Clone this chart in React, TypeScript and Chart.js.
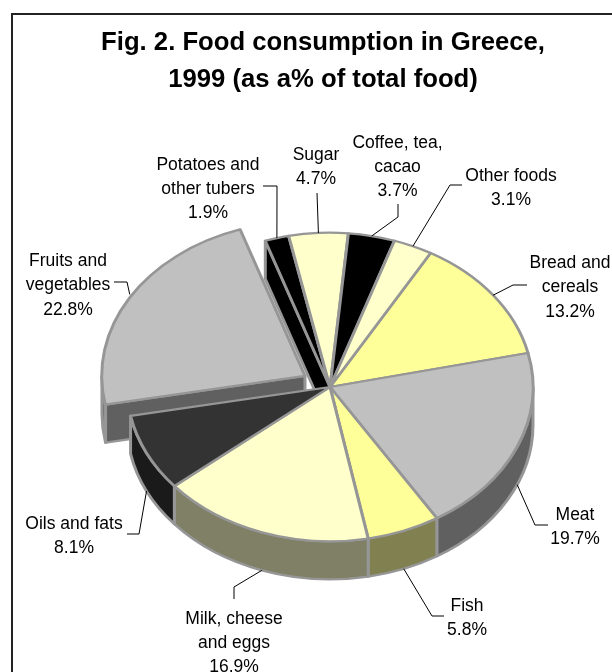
import React, { useEffect, useRef } from "react";
import { Chart, registerables } from "chart.js";

Chart.register(...registerables);

const categories = [
  ["Bread and", "cereals"],
  ["Meat"],
  ["Fish"],
  ["Milk, cheese", "and eggs"],
  ["Oils and fats"],
  ["Fruits and", "vegetables"],
  ["Potatoes and", "other tubers"],
  ["Sugar"],
  ["Coffee, tea,", "cacao"],
  ["Other foods"],
];
const shares = [13.2, 19.7, 5.8, 16.9, 8.1, 22.8, 1.9, 4.7, 3.7, 3.1];
const topColors = ["#FFFF99", "#C0C0C0", "#FFFF99", "#FFFFCC", "#333333", "#C0C0C0", "#000000", "#FFFFCC", "#000000", "#FFFFCC"];
const sideColors = ["#808050", "#606060", "#808050", "#808066", "#1A1A1A", "#606060", "#000000", "#808066", "#000000", "#808066"];
const titleLines = ["Fig. 2. Food consumption in Greece,", "1999 (as a% of total food)"];

// Slice pulled out of the pie, in pixels along its middle angle.
const explodedIndex = 5;
const explodeDistance = 29;

const CENTER_X = 330;
const CENTER_Y = 387;
const RADIUS = 203;
const TILT = 0.76; // vertical squash of the pie disc
const DEPTH = 38; // wall height on screen
const EDGE = "#969696";
const FONT = "'Liberation Sans', Arial, sans-serif";
const LABEL_LINE = 24.3;

// Text centre and leader elbows for every slice, with the same order as the categories.
const labelLayout = [
  { x: 570, y: 287.5, elbows: [[513, 285], [527, 285]], onWall: false },
  { x: 575, y: 527.5, elbows: [[535, 525], [548, 525]], onWall: true },
  { x: 467, y: 618.5, elbows: [[432, 616], [444, 616]], onWall: true },
  { x: 234, y: 643, elbows: [[234, 587], [234, 599]], onWall: true },
  { x: 74, y: 536.5, elbows: [[139, 534], [127, 534]], onWall: true },
  { x: 68, y: 285.5, elbows: [[127, 282], [114, 282]], onWall: false },
  { x: 208, y: 189, elbows: [[277, 186], [263, 186]], onWall: false },
  { x: 316, y: 167, elbows: [[317, 193]], onWall: false },
  { x: 397.5, y: 167, elbows: [[398, 217], [398, 204]], onWall: false },
  { x: 511, y: 188, elbows: [[450, 185], [462, 185]], onWall: false },
];

type Disc = { x: number; y: number; r: number; start: number; end: number; mid: number };

function discOf(arc: any): Disc {
  const { x, y, startAngle, endAngle, outerRadius, options } = arc;
  const mid = (startAngle + endAngle) / 2;
  const push = (options.offset || 0) / 4;
  return {
    x: x + Math.cos(mid) * push,
    y: y + Math.sin(mid) * push,
    r: outerRadius,
    start: startAngle,
    end: endAngle,
    mid,
  };
}

function squash(ctx: CanvasRenderingContext2D, cy: number) {
  ctx.translate(0, cy);
  ctx.scale(1, TILT);
  ctx.translate(0, -cy);
}

// Outer rim of a slice, only where it faces the viewer (canvas angles 0 to PI).
function drawRimWall(ctx: CanvasRenderingContext2D, d: Disc, fill: string) {
  const drop = DEPTH / TILT;
  const turns = [-2, 0, 2];
  turns.forEach((t) => {
    const a = Math.max(d.start, t * Math.PI);
    const b = Math.min(d.end, t * Math.PI + Math.PI);
    if (b <= a) return;
    ctx.beginPath();
    ctx.arc(d.x, d.y, d.r, a, b);
    ctx.arc(d.x, d.y + drop, d.r, b, a, true);
    ctx.closePath();
    ctx.fillStyle = fill;
    ctx.fill();
    ctx.stroke();
  });
}

// Cut face along a slice's first radius, shown where the neighbour has moved away.
function drawCutWall(ctx: CanvasRenderingContext2D, d: Disc, fill: string) {
  const drop = DEPTH / TILT;
  const rx = d.x + Math.cos(d.start) * d.r;
  const ry = d.y + Math.sin(d.start) * d.r;
  ctx.beginPath();
  ctx.moveTo(d.x, d.y);
  ctx.lineTo(rx, ry);
  ctx.lineTo(rx, ry + drop);
  ctx.lineTo(d.x, d.y + drop);
  ctx.closePath();
  ctx.fillStyle = fill;
  ctx.fill();
  ctx.stroke();
}

const pie3d = {
  id: "pie3d",
  beforeDraw(chart: any) {
    const { ctx, width, height } = chart;
    ctx.save();
    ctx.fillStyle = "#FFFFFF";
    ctx.fillRect(0, 0, width, height);
    ctx.strokeStyle = "#222222";
    ctx.lineWidth = 2;
    ctx.strokeRect(12, 14, width + 20, height + 20);
    ctx.restore();
  },
  beforeDatasetDraw(chart: any) {
    const { ctx } = chart;
    const arcs = chart.getDatasetMeta(0).data;
    ctx.save();
    squash(ctx, arcs[0].y);
    ctx.lineWidth = 3;
    ctx.strokeStyle = EDGE;
    ctx.lineJoin = "round";
    const pulled = discOf(arcs[explodedIndex]);
    drawCutWall(ctx, pulled, sideColors[explodedIndex]);
    drawRimWall(ctx, pulled, sideColors[explodedIndex]);
    drawCutWall(ctx, discOf(arcs[explodedIndex + 1]), sideColors[explodedIndex + 1]);
    arcs.forEach((arc: any, i: number) => {
      if (i !== explodedIndex) drawRimWall(ctx, discOf(arc), sideColors[i]);
    });
    ctx.restore();
    // The library's own arcs are painted under the same squash.
    ctx.save();
    squash(ctx, arcs[0].y);
  },
  afterDatasetDraw(chart: any) {
    chart.ctx.restore();
  },
  afterDraw(chart: any) {
    const { ctx } = chart;
    const arcs = chart.getDatasetMeta(0).data;
    ctx.save();
    ctx.fillStyle = "#000000";
    ctx.textAlign = "center";
    ctx.textBaseline = "middle";
    ctx.font = `bold 25.7px ${FONT}`;
    titleLines.forEach((line, i) => ctx.fillText(line, 323, 43 + i * 37));

    ctx.font = `17.5px ${FONT}`;
    categories.forEach((lines, i) => {
      const spot = labelLayout[i];
      const rows = [...lines, `${shares[i].toFixed(1)}%`];
      const top = spot.y - ((rows.length - 1) * LABEL_LINE) / 2;
      rows.forEach((row, k) => ctx.fillText(row, spot.x, top + k * LABEL_LINE));

      const d = discOf(arcs[i]);
      const rimX = d.x + Math.cos(d.mid) * d.r;
      const rimY = d.y + Math.sin(d.mid) * d.r * TILT + (spot.onWall ? DEPTH : 0);
      ctx.beginPath();
      ctx.moveTo(rimX, rimY);
      spot.elbows.forEach((p) => ctx.lineTo(p[0], p[1]));
      ctx.strokeStyle = "#000000";
      ctx.lineWidth = 1;
      ctx.stroke();
    });
    ctx.restore();
  },
};

export default function App() {
  const canvasRef = useRef<HTMLCanvasElement>(null);

  useEffect(() => {
    const width = 612;
    const height = 672;
    const chart = new Chart(canvasRef.current!, {
      type: "pie",
      data: {
        labels: categories.map((c) => c.join(" ")),
        datasets: [
          {
            data: shares,
            backgroundColor: topColors,
            borderColor: EDGE,
            borderWidth: 3,
            borderJoinStyle: "round",
            offset: shares.map((_, i) => (i === explodedIndex ? explodeDistance * 4 : 0)),
            clip: false,
          } as any,
        ],
      },
      options: {
        responsive: false,
        animation: false,
        rotation: 29.7,
        radius: RADIUS,
        layout: {
          padding: {
            left: CENTER_X - 100,
            right: width - CENTER_X - 100,
            top: CENTER_Y - 100,
            bottom: height - CENTER_Y - 100,
          },
        },
        plugins: {
          legend: { display: false },
          tooltip: { enabled: false },
          title: { display: false },
        },
      } as any,
      plugins: [pie3d],
    });
    return () => chart.destroy();
  }, []);

  return (
    <canvas
      ref={canvasRef}
      width={612}
      height={672}
      style={{ position: "absolute", left: 0, top: 0, width: 612, height: 672 }}
    />
  );
}
